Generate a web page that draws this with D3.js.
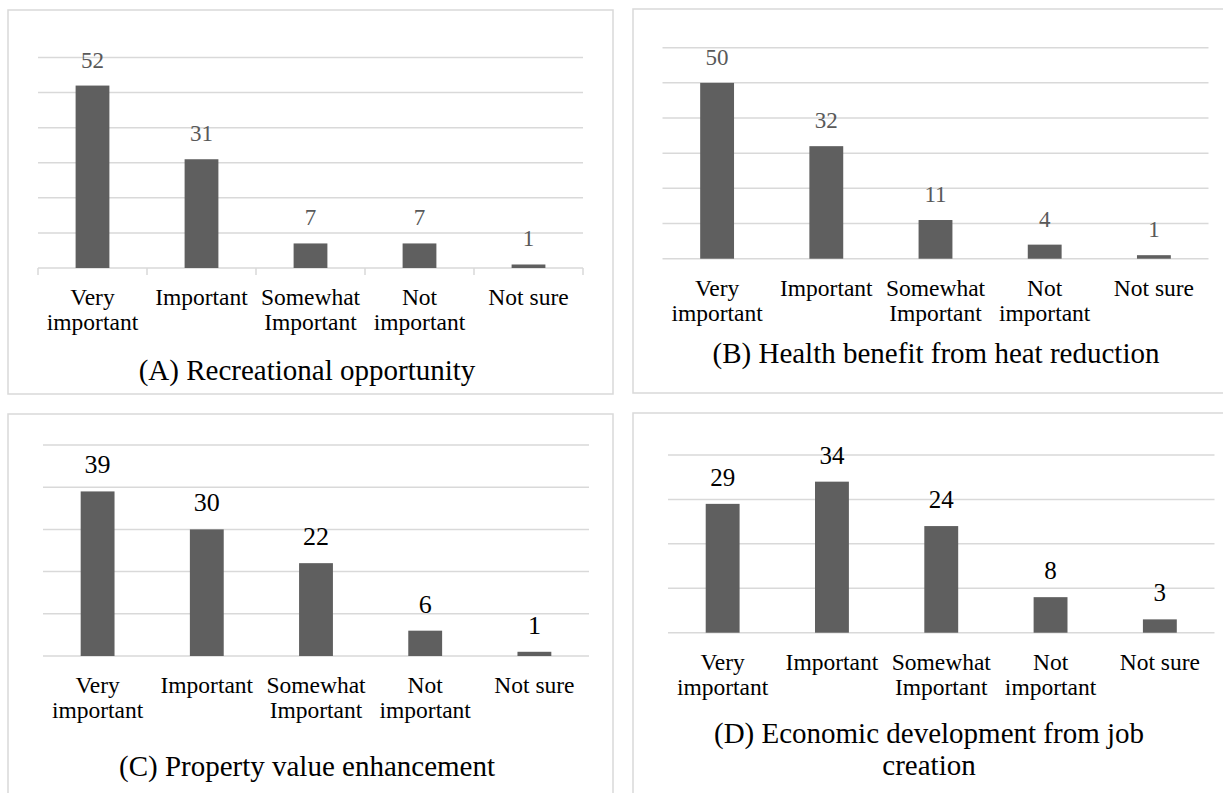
<!DOCTYPE html>
<html>
<head>
<meta charset="utf-8">
<script src="https://d3js.org/d3.v7.min.js"></script>
<style>
  body { margin: 0; background: #fff; }
  svg { display: block; }
  text { font-family: 'Liberation Serif', 'Times New Roman', Times, 'DejaVu Serif', serif; }
</style>
</head>
<body>
<svg width="1223" height="793"></svg>

<script>

// Chart data
var categories = ['Very important', 'Important', 'Somewhat Important', 'Not important', 'Not sure'];
var recreational = [52, 31, 7, 7, 1];
var healthBenefit = [50, 32, 11, 4, 1];
var propertyValue = [39, 30, 22, 6, 1];
var economicDev = [29, 34, 24, 8, 3];
var panelTitles = ['(A) Recreational opportunity',
  '(B) Health benefit from heat reduction',
  '(C) Property value enhancement',
  '(D) Economic development from job creation'];
var axisMax = [60, 60, 50, 40];

var serif = "'Liberation Serif', 'Times New Roman', Times, 'DejaVu Serif', serif";

// Layout of each panel (box, plot area, text settings)
var panels = [
  {values: recreational, box: [8, 10, 613, 394], x0: 38, x1: 583, yTop: 57.5, yBase: 268,
   titleX: 307, titleY: [380], valColor: '#595959', valSize: 23, ticks: true},
  {values: healthBenefit, box: [633, 9, 1240, 393], x0: 662.5, x1: 1208.5, yTop: 47.7, yBase: 258.7,
   titleX: 936, titleY: [363], valColor: '#595959', valSize: 23, ticks: false},
  {values: propertyValue, box: [8, 414, 613, 820], x0: 43, x1: 589, yTop: 445, yBase: 656,
   titleX: 307, titleY: [776], valColor: '#000', valSize: 26, ticks: false},
  {values: economicDev, box: [633, 413, 1240, 820], x0: 668, x1: 1214.5, yTop: 455, yBase: 632.7,
   titleX: 929, titleY: [743, 775], valColor: '#000', valSize: 25, ticks: false}
];

var svg = d3.select('svg').attr('font-family', serif);
var grey = '#d9d9d9';
var barColor = '#5f5f5f';

panels.forEach(function(p, i) {
  var g = svg.append('g');

  // panel frame
  g.append('rect')
    .attr('x', p.box[0]).attr('y', p.box[1])
    .attr('width', p.box[2] - p.box[0]).attr('height', p.box[3] - p.box[1])
    .attr('fill', '#fff')
    .attr('stroke', grey)
    .attr('stroke-width', 1.5);

  var x = d3.scaleBand().domain(categories).range([p.x0, p.x1]).padding(0);
  var y = d3.scaleLinear().domain([0, axisMax[i]]).range([p.yBase, p.yTop]);
  var barW = x.bandwidth() * 0.31;

  // gridlines
  g.selectAll('.grid')
    .data(d3.range(0, axisMax[i] + 1, 10))
    .enter().append('line')
    .attr('x1', p.x0).attr('x2', p.x1)
    .attr('y1', function(d) { return y(d); })
    .attr('y2', function(d) { return y(d); })
    .attr('stroke', grey)
    .attr('stroke-width', 1.5);

  // tick marks between categories (only on the first panel)
  if (p.ticks) {
    g.selectAll('.tick')
      .data(d3.range(categories.length + 1))
      .enter().append('line')
      .attr('x1', function(d) { return p.x0 + d * x.step(); })
      .attr('x2', function(d) { return p.x0 + d * x.step(); })
      .attr('y1', p.yBase)
      .attr('y2', p.yBase + 7)
      .attr('stroke', grey)
      .attr('stroke-width', 1.5);
  }

  // bars
  g.selectAll('.bar')
    .data(p.values)
    .enter().append('rect')
    .attr('x', function(d, j) { return x(categories[j]) + (x.bandwidth() - barW) / 2; })
    .attr('y', function(d) { return y(d); })
    .attr('width', barW)
    .attr('height', function(d) { return p.yBase - y(d); })
    .attr('fill', barColor);

  // value labels
  g.selectAll('.val')
    .data(p.values)
    .enter().append('text')
    .attr('x', function(d, j) { return x(categories[j]) + x.bandwidth() / 2; })
    .attr('y', function(d) { return y(d) - 18; })
    .attr('text-anchor', 'middle')
    .attr('font-family', serif)
    .attr('font-size', p.valSize)
    .attr('fill', p.valColor)
    .text(function(d) { return d; });

  // category labels, wrapped to the band width
  categories.forEach(function(c) {
    var t = g.append('text')
      .attr('text-anchor', 'middle')
      .attr('font-family', serif)
      .attr('font-size', 23.5)
      .attr('fill', '#000');
    var cx = x(c) + x.bandwidth() / 2;
    var words = c.split(' ');
    var lines = [];
    var line = [];
    var probe = t.append('tspan');
    words.forEach(function(w) {
      line.push(w);
      probe.text(line.join(' '));
      if (probe.node().getComputedTextLength() > x.bandwidth() - 4 && line.length > 1) {
        line.pop();
        lines.push(line.join(' '));
        line = [w];
      }
    });
    lines.push(line.join(' '));
    probe.remove();
    lines.forEach(function(l, k) {
      t.append('tspan')
        .attr('x', cx)
        .attr('y', p.yBase + 37 + k * 25)
        .text(l);
    });
  });

  // panel title
  var titleLines = p.titleY.length > 1
    ? ['(D) Economic development from job', 'creation']
    : [panelTitles[i]];
  titleLines.forEach(function(l, k) {
    g.append('text')
      .attr('x', p.titleX)
      .attr('y', p.titleY[k])
      .attr('text-anchor', 'middle')
      .attr('font-family', serif)
      .attr('font-size', 29)
      .attr('fill', '#000')
      .text(l);
  });
});

</script>
</body>
</html>
